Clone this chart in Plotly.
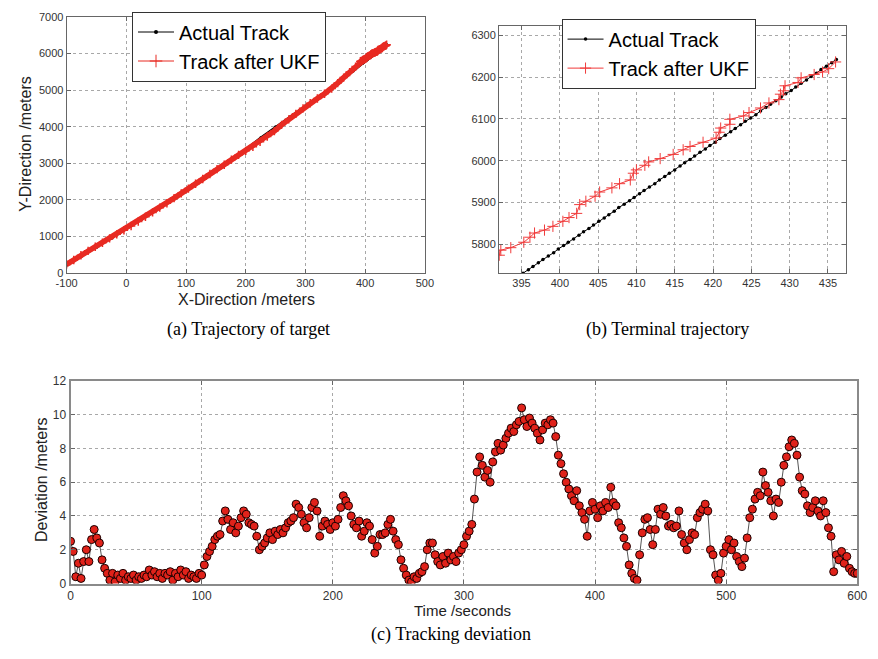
import plotly.graph_objects as go

# ---------------- (a) full trajectory ----------------
# actual target track, coarse samples up to the terminal leg
actual_x = [-100, -75, -50, -25, 0, 25, 50, 75, 100, 125, 150, 175, 200, 225,
            250, 275, 300, 325, 345, 360, 380]
actual_y = [220, 460, 700, 950, 1200, 1460, 1720, 1990, 2260, 2530, 2810, 3090,
            3390, 3700, 4000, 4280, 4570, 4830, 5060, 5250, 5520]

# actual track on the terminal leg (one sample per second)
term_actual_x = [395.2, 395.9, 396.5, 397.2, 397.8, 398.5, 399.2, 399.8, 400.5, 401.1,
                 401.8, 402.5, 403.1, 403.8, 404.4, 405.1, 405.8, 406.4, 407.1, 407.7,
                 408.4, 409.1, 409.7, 410.4, 411.0, 411.7, 412.4, 413.0, 413.7, 414.3,
                 415.0, 415.7, 416.3, 417.0, 417.6, 418.3, 419.0, 419.6, 420.3, 420.9,
                 421.6, 422.3, 422.9, 423.6, 424.2, 424.9, 425.6, 426.2, 426.9, 427.5,
                 428.2, 428.9, 429.5, 430.2, 430.8, 431.5, 432.2, 432.8, 433.5, 434.1,
                 434.8, 435.5, 436.1]
term_actual_y = [5731, 5739, 5747, 5756, 5764, 5772, 5780, 5789, 5797, 5805,
                 5813, 5822, 5830, 5838, 5846, 5855, 5863, 5871, 5879, 5888,
                 5896, 5904, 5912, 5921, 5929, 5937, 5945, 5954, 5962, 5970,
                 5978, 5987, 5995, 6003, 6011, 6020, 6028, 6036, 6044, 6053,
                 6061, 6069, 6077, 6086, 6094, 6102, 6110, 6119, 6127, 6135,
                 6143, 6152, 6160, 6168, 6176, 6185, 6193, 6201, 6209, 6218,
                 6226, 6234, 6242]

# UKF estimate, coarse samples up to the terminal leg
ukf_x = [-100, -88, -76, -64, -52, -40, -28, -16, -4, 8, 20, 32, 44, 56, 68, 80,
         92, 104, 116, 128, 140, 152, 164, 176, 188, 200, 212, 224, 236, 248, 260,
         272, 284, 296, 308, 320, 332, 344, 354, 364, 374, 384]
ukf_y = [240, 360, 490, 610, 720, 830, 950, 1060, 1170, 1290, 1410, 1540, 1660,
         1790, 1910, 2050, 2180, 2310, 2440, 2570, 2710, 2840, 2960, 3100, 3230,
         3340, 3450, 3590, 3730, 3880, 4050, 4200, 4350, 4500, 4640, 4770, 4900,
         5040, 5190, 5340, 5490, 5640]

# UKF estimate on the terminal leg
term_ukf_x = [392.1, 392.3, 393.6, 395.3, 396.1, 396.7, 398.0, 399.1, 400.4, 401.2,
              402.2, 402.6, 403.4, 404.6, 405.2, 406.8, 407.8, 409.2, 409.6, 410.0,
              411.1, 411.6, 413.1, 414.8, 416.1, 417.0, 418.7, 420.4, 420.8, 421.0,
              422.2, 422.2, 424.0, 424.7, 426.2, 427.3, 428.6, 428.8, 429.2, 429.4,
              431.1, 431.5, 433.2, 434.3, 435.1, 436.0]
term_ukf_y = [5774, 5786, 5792, 5805, 5817, 5827, 5834, 5843, 5855, 5864,
              5874, 5895, 5903, 5915, 5925, 5935, 5945, 5954, 5970, 5978,
              5989, 5997, 6005, 6015, 6026, 6034, 6044, 6054, 6068, 6078,
              6087, 6099, 6107, 6115, 6126, 6138, 6146, 6159, 6167, 6179,
              6187, 6198, 6206, 6212, 6220, 6236]

# ---------------- (c) tracking deviation ----------------
time_s = list(range(0, 601, 2))
deviation = [
    2.5, 1.9, 0.4, 1.2, 0.3, 1.3, 2.0, 1.3, 2.6, 3.2,
    2.7, 2.4, 1.4, 0.9, 0.6, 0.2, 0.6, 0.1, 0.5, 0.3,
    0.6, 0.2, 0.4, 0.3, 0.5, 0.2, 0.4, 0.3, 0.5, 0.4,
    0.8, 0.5, 0.7, 0.4, 0.6, 0.3, 0.6, 0.5, 0.7, 0.2,
    0.6, 0.4, 0.8, 0.5, 0.7, 0.3, 0.5, 0.4, 0.3, 0.6,
    0.5, 1.1, 1.6, 1.9, 2.2, 2.6, 2.8, 2.9, 3.7, 4.3,
    3.8, 3.2, 3.6, 3.0, 3.4, 3.9, 4.3, 4.1, 3.6, 3.5,
    3.4, 2.8, 2.0, 2.2, 2.4, 2.7, 3.0, 2.6, 3.1, 2.9,
    3.2, 3.0, 3.3, 3.6, 3.7, 3.9, 4.7, 4.5, 4.1, 3.6,
    3.3, 3.9, 4.5, 4.8, 4.3, 2.8, 3.4, 3.7, 3.5, 3.2,
    3.6, 3.4, 3.8, 4.5, 5.2, 4.9, 4.6, 4.0, 3.5, 3.3,
    3.7, 2.8, 3.1, 3.6, 3.4, 2.6, 1.8, 2.2, 2.9, 2.9,
    3.0, 3.5, 3.8, 3.1, 2.6, 2.3, 1.4, 0.9, 0.5, 0.2,
    0.1, 0.4, 0.3, 0.6, 0.7, 1.0, 2.0, 2.4, 2.4, 1.7,
    1.3, 1.1, 1.6, 1.2, 1.8, 1.4, 1.6, 1.3, 1.8, 2.0,
    2.3, 2.8, 3.1, 3.5, 5.0, 6.6, 7.5, 7.0, 6.3, 6.7,
    6.0, 7.2, 7.8, 8.3, 7.9, 8.2, 8.6, 8.9, 9.2, 9.0,
    9.4, 9.6, 10.4, 9.7, 9.3, 9.8, 9.5, 9.2, 8.9, 8.5,
    9.1, 9.5, 9.4, 9.7, 9.5, 8.7, 7.6, 7.1, 6.5, 6.0,
    5.6, 5.2, 4.9, 5.5, 4.6, 4.2, 3.8, 2.8, 4.3, 4.8,
    4.4, 3.9, 4.6, 4.3, 4.8, 4.5, 5.7, 4.8, 4.6, 3.6,
    3.3, 2.7, 2.2, 1.1, 0.6, 0.3, 0.2, 1.7, 3.0, 3.8,
    3.9, 3.2, 2.3, 3.2, 4.4, 4.1, 4.5, 4.0, 3.4, 3.5,
    3.3, 3.4, 4.3, 2.9, 2.4, 2.0, 2.6, 3.0, 2.9, 3.9,
    4.2, 4.4, 4.7, 4.3, 2.0, 1.7, 0.5, 0.2, 0.6, 1.8,
    2.2, 2.6, 2.0, 2.4, 1.6, 1.3, 1.0, 1.5, 2.7, 3.9,
    4.4, 5.0, 5.4, 5.2, 6.6, 5.8, 5.4, 4.9, 4.0, 5.0,
    4.8, 6.0, 7.0, 7.5, 8.1, 8.5, 8.3, 7.6, 6.3, 5.5,
    5.3, 4.6, 4.2, 4.5, 4.9, 4.3, 4.0, 4.9, 4.2, 3.3,
    2.8, 0.7, 1.7, 1.4, 1.9, 1.2, 1.6, 0.9, 0.7, 0.6,
    0.6,
]

# tick labels
a_xticks = [-100, 0, 100, 200, 300, 400, 500]
a_xtext = ["-100", "0", "100", "200", "300", "400", "500"]
a_yticks = [0, 1000, 2000, 3000, 4000, 5000, 6000, 7000]
b_xticks = [395, 400, 405, 410, 415, 420, 425, 430, 435]
b_yticks = [5800, 5900, 6000, 6100, 6200, 6300]
c_xticks = [0, 100, 200, 300, 400, 500, 600]
c_yticks = [0, 2, 4, 6, 8, 10, 12]

RED = "#e82a22"
SANS = "Liberation Sans, Arial, sans-serif"
SERIF = "Liberation Serif, Times New Roman, serif"

fig = go.Figure()

# (a) traces
fig.add_trace(go.Scatter(
    x=actual_x + term_actual_x, y=actual_y + term_actual_y,
    mode="lines+markers", line=dict(color="black", width=2),
    marker=dict(size=3, color="black"), showlegend=False,
    xaxis="x", yaxis="y"))
fig.add_trace(go.Scatter(
    x=ukf_x + term_ukf_x, y=ukf_y + term_ukf_y,
    mode="lines+markers", line=dict(color=RED, width=5.5),
    marker=dict(symbol="cross-thin", size=6, line=dict(color=RED, width=1.5)),
    showlegend=False, xaxis="x", yaxis="y"))
# legend entries for (a)
fig.add_trace(go.Scatter(
    x=[None], y=[None], name="Actual Track", mode="lines+markers",
    line=dict(color="black", width=1), marker=dict(size=4, color="black"),
    xaxis="x", yaxis="y", legend="legend"))
fig.add_trace(go.Scatter(
    x=[None], y=[None], name="Track after UKF", mode="lines+markers",
    line=dict(color=RED, width=1),
    marker=dict(symbol="cross-thin", size=9, line=dict(color=RED, width=1)),
    xaxis="x", yaxis="y", legend="legend"))

# (b) traces
fig.add_trace(go.Scatter(
    x=term_actual_x, y=term_actual_y, name="Actual Track",
    mode="lines+markers", line=dict(color="black", width=1),
    marker=dict(size=3.5, color="black"), xaxis="x2", yaxis="y2", legend="legend2"))
fig.add_trace(go.Scatter(
    x=term_ukf_x, y=term_ukf_y, name="Track after UKF",
    mode="lines+markers", line=dict(color="#f03a3a", width=1),
    marker=dict(symbol="cross-thin", size=8, line=dict(color="#f03a3a", width=1)),
    xaxis="x2", yaxis="y2", legend="legend2"))

# (c) trace
fig.add_trace(go.Scatter(
    x=time_s, y=deviation, mode="lines+markers",
    line=dict(color="#555555", width=1),
    marker=dict(symbol="circle", size=8, color="#e0221a",
                line=dict(color="#1a0000", width=1)),
    showlegend=False, xaxis="x3", yaxis="y3"))

def axis_style(**kw):
    base = dict(
        showgrid=True, gridcolor="#a8a8a8", griddash="dot", gridwidth=1,
        showline=True, mirror="ticks", linecolor="#666666", linewidth=1,
        ticks="inside", ticklen=4, tickcolor="#666666", zeroline=False,
        tickfont=dict(family=SANS, size=11, color="#333333"),
    )
    base.update(kw)
    return base

legend_common = dict(
    xanchor="left", yanchor="top", bgcolor="white", bordercolor="#333333",
    borderwidth=1, font=dict(family=SANS, size=20, color="black"),
    itemwidth=36, tracegroupgap=0,
)

fig.update_layout(
    width=878, height=659, autosize=False,
    margin=dict(l=0, r=0, t=0, b=0),
    paper_bgcolor="white", plot_bgcolor="white",
    xaxis=axis_style(domain=[0.0649, 0.4829], range=[-100, 500], anchor="y",
                     tickvals=a_xticks, ticktext=a_xtext),
    yaxis=axis_style(domain=[0.5873, 0.9848], range=[0, 7000], anchor="x",
                     tickvals=a_yticks, tickformat="d"),
    xaxis2=axis_style(domain=[0.5695, 0.9738], range=[392.07, 437.3], anchor="y2",
                      tickvals=b_xticks),
    yaxis2=axis_style(domain=[0.5873, 0.9712], range=[5731, 6323], anchor="x2",
                      tickvals=b_yticks, tickformat="d"),
    xaxis3=axis_style(domain=[0.0695, 0.9875], range=[0, 600], anchor="y3",
                      tickvals=c_xticks, linecolor="#8a8a8a", linewidth=2,
                      tickfont=dict(family=SANS, size=12, color="#333333")),
    yaxis3=axis_style(domain=[0.1062, 0.4203], range=[0, 12], anchor="x3",
                      tickvals=c_yticks, linecolor="#8a8a8a", linewidth=2,
                      tickfont=dict(family=SANS, size=12, color="#333333")),
    legend=dict(x=0.1412, y=0.993, **legend_common),
    legend2=dict(x=0.6424, y=0.982, **legend_common),
)

def label(text, x, y, size, family=SANS, angle=0, color="#222222"):
    fig.add_annotation(text=text, x=x / 878, y=1 - y / 659, xref="paper", yref="paper",
                       showarrow=False, xanchor="center", yanchor="middle",
                       textangle=angle, font=dict(family=family, size=size, color=color))

# axis titles
label("X-Direction /meters", 241, 299, 16)
label("Y-Direction /meters", 14, 140, 16, angle=-90)
label("Time /seconds", 463, 617, 15)
label("Deviation /meters", 31, 483, 16, angle=-90)

# panel captions
label("(a) Trajectory of target", 243, 329, 18, family=SERIF, color="black")
label("(b) Terminal trajectory", 673, 329, 18, family=SERIF, color="black")
label("(c) Tracking deviation", 451, 641, 18, family=SERIF, color="black")

fig.write_html("out.html")
